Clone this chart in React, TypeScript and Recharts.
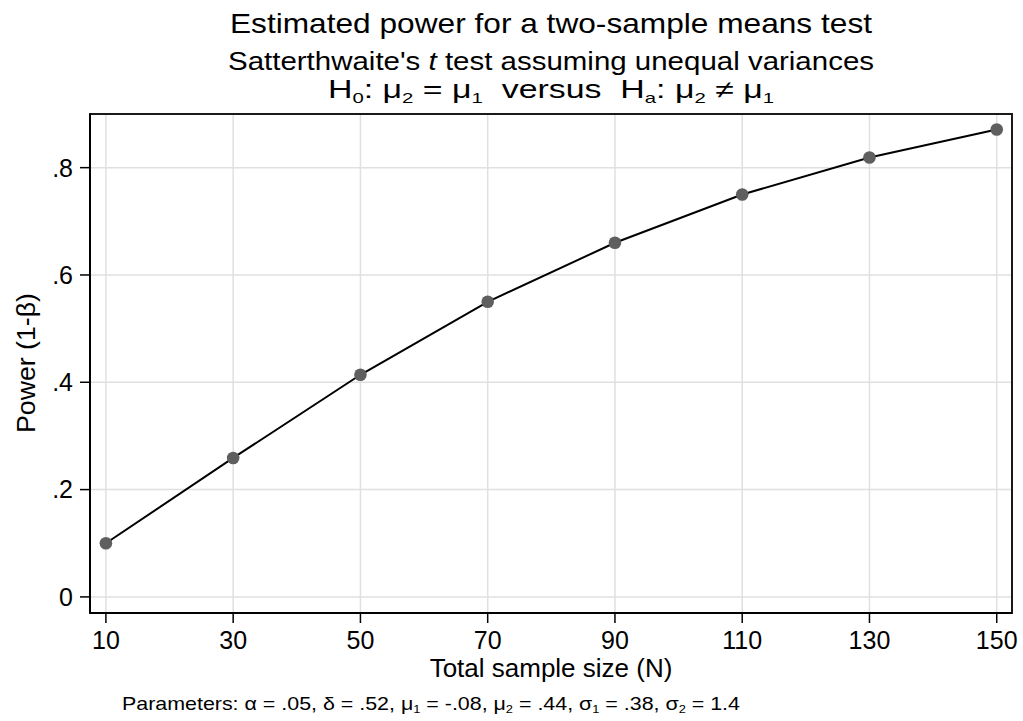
import React from "react";
import { LineChart, Line, XAxis, YAxis, CartesianGrid, ReferenceArea } from "recharts";

const sampleSizes = [10, 30, 50, 70, 90, 110, 130, 150];
const powerValues = [0.1, 0.259, 0.414, 0.55, 0.66, 0.75, 0.819, 0.871];
const xTicks = [10, 30, 50, 70, 90, 110, 130, 150];
const yTicks = [0, 0.2, 0.4, 0.6, 0.8];
const xDomain: [number, number] = [7.5, 152.4];
const yDomain: [number, number] = [-0.03, 0.9];

const data = sampleSizes.map((n, i) => ({ n, power: powerValues[i] }));

const W = 1023;
const H = 721;
const FONT = "'Liberation Sans', Arial, Helvetica, sans-serif";

const fmtY = (v: number) => (v === 0 ? "0" : String(v).replace(/^0/, ""));

const Sub = ({ children }: { children: React.ReactNode }) => (
  <tspan baselineShift="-30%" fontSize="0.6em">{children}</tspan>
);

export default function App() {
  return (
    <div style={{ position: "absolute", left: 0, top: 0, width: W, height: H, background: "#fff", fontFamily: FONT }}>
      <LineChart
        width={W}
        height={H}
        data={data}
        margin={{ top: 114, right: 11, bottom: 63, left: 30 }}
      >
        <CartesianGrid
          stroke="#e0e0e0"
          strokeWidth={1.5}
          horizontalValues={yTicks}
          verticalValues={xTicks}
        />
        <XAxis
          type="number"
          dataKey="n"
          domain={xDomain}
          ticks={xTicks}
          allowDataOverflow
          height={45}
          tickSize={10}
          tickMargin={8}
          axisLine={{ stroke: "#000", strokeWidth: 2 }}
          tickLine={{ stroke: "#000", strokeWidth: 1.5 }}
          tick={{ fill: "#000", fontSize: 25, fontFamily: FONT }}
        />
        <YAxis
          type="number"
          domain={yDomain}
          ticks={yTicks}
          allowDataOverflow
          width={60}
          tickSize={10}
          tickMargin={7}
          tickFormatter={fmtY}
          axisLine={{ stroke: "#000", strokeWidth: 2 }}
          tickLine={{ stroke: "#000", strokeWidth: 1.5 }}
          tick={{ fill: "#000", fontSize: 25, fontFamily: FONT }}
        />
        <ReferenceArea
          x1={xDomain[0]}
          x2={xDomain[1]}
          y1={yDomain[0]}
          y2={yDomain[1]}
          fill="none"
          fillOpacity={0}
          stroke="#1a1a1a"
          strokeWidth={2}
          ifOverflow="visible"
        />
        <Line
          type="linear"
          dataKey="power"
          stroke="#000"
          strokeWidth={2}
          dot={{ r: 6.3, fill: "#5f5f5f", stroke: "none" }}
          activeDot={false}
          isAnimationActive={false}
        />
      </LineChart>
      <svg
        width={W}
        height={H}
        style={{ position: "absolute", left: 0, top: 0, pointerEvents: "none" }}
        fontFamily={FONT}
      >
        <text x={551} y={33} textAnchor="middle" fontSize={28} fill="#000" textLength={642} lengthAdjust="spacingAndGlyphs">
          Estimated power for a two-sample means test
        </text>
        <text x={551} y={70} textAnchor="middle" fontSize={26} fill="#000" textLength={646} lengthAdjust="spacingAndGlyphs">
          Satterthwaite's <tspan fontStyle="italic">t</tspan> test assuming unequal variances
        </text>
        <text x={551} y={98} textAnchor="middle" fontSize={25} fill="#000" textLength={446} lengthAdjust="spacingAndGlyphs">
          H<Sub>0</Sub>: μ<Sub>2</Sub> = μ<Sub>1</Sub>{"\u00a0\u00a0"}versus{"\u00a0\u00a0"}H<Sub>a</Sub>: μ<Sub>2</Sub> ≠ μ<Sub>1</Sub>
        </text>
        <text
          x={0}
          y={0}
          transform="translate(35,363) rotate(-90)"
          textAnchor="middle"
          fontSize={25}
          fill="#000"
          textLength={140}
          lengthAdjust="spacingAndGlyphs"
        >
          Power (1-β)
        </text>
        <text x={551} y={677} textAnchor="middle" fontSize={26} fill="#000">
          Total sample size (N)
        </text>
        <text x={122} y={710} textAnchor="start" fontSize={19} fill="#000" textLength={618} lengthAdjust="spacingAndGlyphs">
          Parameters: α = .05, δ = .52, μ<Sub>1</Sub> = -.08, μ<Sub>2</Sub> = .44, σ<Sub>1</Sub> = .38, σ<Sub>2</Sub> = 1.4
        </text>
      </svg>
    </div>
  );
}
